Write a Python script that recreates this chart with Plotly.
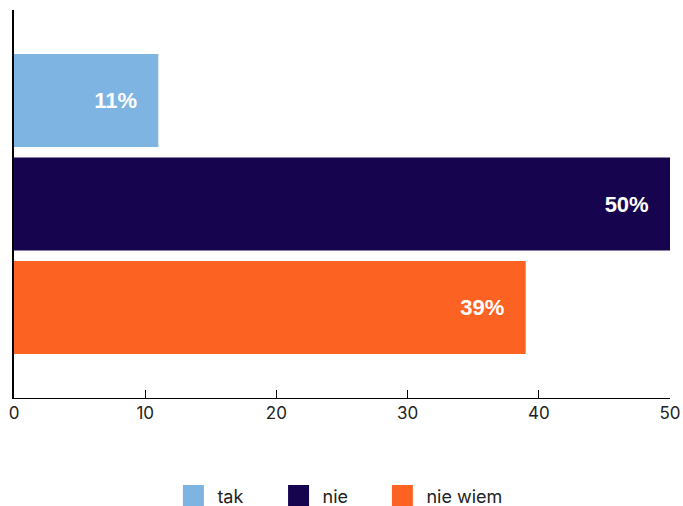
import plotly.graph_objects as go

series = ["tak", "nie", "nie wiem"]
values = [11, 50, 39]
colors = ["#7EB4E2", "#17044F", "#FC6222"]
x_ticks = [0, 10, 20, 30, 40, 50]
category = ["q"]
legend_x = [0.248, 0.402, 0.554]  # container fractions for each legend entry

fig = go.Figure()
pad = "\u00a0" * 3
for name, v, c in zip(series, values, colors):
    fig.add_trace(go.Bar(
        x=[v], y=category, orientation="h", name=name,
        marker=dict(color=c, line=dict(width=0)),
        texttemplate="%{x}%" + pad, textposition="inside",
        insidetextanchor="end", textangle=0,
        textfont=dict(family="Arial, Liberation Sans", size=22, color="white", weight="bold"),
        showlegend=False, hoverinfo="skip",
    ))
legend_names = ["legend", "legend2", "legend3"]
for name, c, lg in zip(series, colors, legend_names):
    fig.add_trace(go.Scatter(
        x=[None], y=[None], mode="markers", name=name, legend=lg,
        marker=dict(symbol="square", size=16, color=c, line=dict(color=c, width=5)),
    ))

legend_common = dict(orientation="h", xref="container", xanchor="left", yref="container",
                     y=0.02, yanchor="middle", itemwidth=38,
                     font=dict(size=18, color="#222"), bgcolor="rgba(0,0,0,0)")
fig.update_layout(
    width=683, height=506,
    margin=dict(l=14, r=13, t=10, b=108, autoexpand=False),
    paper_bgcolor="white", plot_bgcolor="white",
    barmode="group", bargap=0.2, bargroupgap=0.1,
    font=dict(family="Inter, Noto Sans, sans-serif", size=17, color="#222"),
    showlegend=True,
    legend=dict(x=legend_x[0], **legend_common),
    legend2=dict(x=legend_x[1], **legend_common),
    legend3=dict(x=legend_x[2], **legend_common),
    xaxis=dict(range=[0, 50], tickvals=x_ticks, ticks="inside", ticklen=8,
               tickcolor="#000", showline=True, linecolor="#000", linewidth=1,
               showgrid=False, zeroline=False, tickfont=dict(size=17), automargin=False),
    yaxis=dict(autorange="reversed", showticklabels=False, showline=True,
               linecolor="#000", linewidth=2, showgrid=False, ticks="", automargin=False),
)
fig.write_html("out.html", config={"displayModeBar": False},
               post_script="document.body.style.margin='0';")
